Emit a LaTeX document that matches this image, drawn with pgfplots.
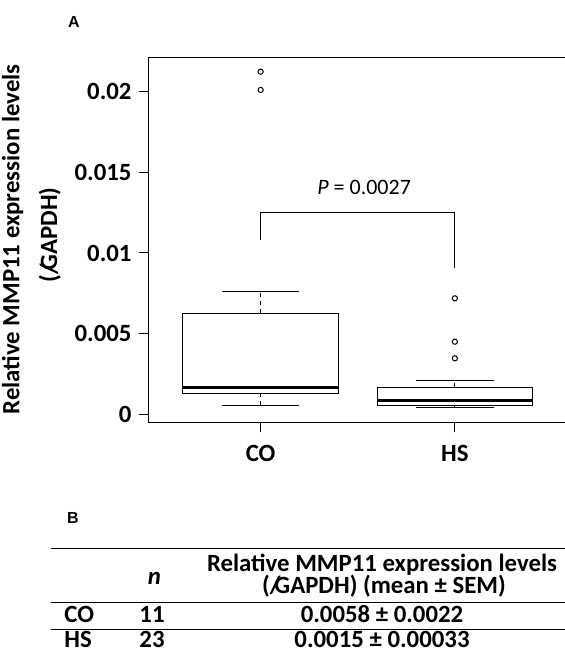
\documentclass[border=0pt]{standalone}
\usepackage{fontspec}
\setmainfont{Carlito}
\newfontfamily\labfont{Liberation Sans}
\usepackage{pgfplots}
\pgfplotsset{compat=1.18}
\usepgfplotslibrary{statistics}
\newcommand{\bigb}{\fontsize{12.4}{14}\selectfont\bfseries}
\begin{document}
\begin{tikzpicture}
\path[use as bounding box] (0,0) rectangle (282.5pt,326pt);
% values in units of 0.001 (relative expression x 1000)
\begin{axis}[
  at={(74pt,114.5pt)}, anchor=south west,
  scale only axis, width=209.75pt, height=182.75pt,
  xmin=0.42, xmax=2.58, ymin=-0.54, ymax=22.12,
  xtick={1,2}, xticklabels={CO,HS},
  ytick={0,5,10,15,20},
  yticklabels={0,0.005,0.01,0.015,0.02},
  tick align=outside, tick pos=left,
  major tick length=4.7pt,
  axis line style={line width=0.5pt},
  every tick/.style={black, line width=0.5pt},
  ticklabel style={font=\bigb},
  xticklabel style={yshift=-3pt},
  clip=false,
  boxplot/draw direction=y,
  boxplot/box extend=0.8, boxplot/whisker extend=0.4,
  boxplot/every median/.style={line width=1.4pt},
  boxplot/draw/lower whisker/.code={%
    \draw[dash pattern=on 2pt off 2pt] (boxplot box cs:\pgfplotsboxplotvalue{lower quartile},0.5) -- (boxplot box cs:\pgfplotsboxplotvalue{lower whisker},0.5);
    \draw (boxplot whisker cs:\pgfplotsboxplotvalue{lower whisker},0) -- (boxplot whisker cs:\pgfplotsboxplotvalue{lower whisker},1);
  },
  boxplot/draw/upper whisker/.code={%
    \draw[dash pattern=on 2pt off 2pt] (boxplot box cs:\pgfplotsboxplotvalue{upper quartile},0.5) -- (boxplot box cs:\pgfplotsboxplotvalue{upper whisker},0.5);
    \draw (boxplot whisker cs:\pgfplotsboxplotvalue{upper whisker},0) -- (boxplot whisker cs:\pgfplotsboxplotvalue{upper whisker},1);
  },
]
\addplot[black, line width=0.5pt, mark=o, mark size=1.3pt,
  boxplot prepared={draw position=1, lower whisker=0.57, lower quartile=1.30,
    median=1.64, upper quartile=6.26, upper whisker=7.64}]
  coordinates {(1,21.24) (1,20.11)};
\addplot[black, line width=0.5pt, mark=o, mark size=1.3pt,
  boxplot prepared={draw position=2, lower whisker=0.39, lower quartile=0.56,
    median=0.84, upper quartile=1.67, upper whisker=2.08}]
  coordinates {(2,7.19) (2,4.50) (2,3.47)};
\addplot[black, line width=0.5pt, mark=none] coordinates {(1,10.81) (1,12.52) (2,12.52) (2,9.05)};
\node[anchor=base, font=\fontsize{11}{13}\selectfont] at (axis cs:1.533,13.6) {\textit{P} = 0.0027};
\end{axis}
% panel letters
\node[font=\labfont\fontsize{8}{9}\selectfont\bfseries] at (37pt,315pt) {A};
\node[font=\labfont\fontsize{8}{9}\selectfont\bfseries] at (36.5pt,67pt) {B};
% y label
\node[rotate=90, anchor=base, inner sep=0pt, font=\bigb] at (9.65pt,206.25pt) {Relative MMP11 expression levels};
\node[rotate=90, anchor=base, inner sep=0pt, font=\bigb] at (28.5pt,208.5pt) {(/\kern-0.25em GAPDH)};
% table
\draw[line width=0.5pt] (25.5pt,51.5pt) -- (284pt,51.5pt);
\draw[line width=0.5pt] (25.5pt,24.5pt) -- (284pt,24.5pt);
\draw[line width=0.5pt] (25.5pt,11pt) -- (284pt,11pt);
\node[anchor=base, font=\bigb, inner sep=0pt] at (191pt,40pt) {Relative MMP11 expression levels};
\node[anchor=base, font=\bigb, inner sep=0pt] at (192pt,29pt) {(/\kern-0.25em GAPDH) (mean ± SEM)};
\node[anchor=base, font=\bigb\itshape, inner sep=0pt] at (77.25pt,33.5pt) {n};
\node[anchor=base west, font=\bigb, inner sep=0pt] at (32pt,14.5pt) {CO};
\node[anchor=base, font=\bigb, inner sep=0pt] at (76pt,14.5pt) {11};
\node[anchor=base, font=\bigb, inner sep=0pt] at (191pt,14.5pt) {0.0058 ± 0.0022};
\node[anchor=base west, font=\bigb, inner sep=0pt] at (32pt,2pt) {HS};
\node[anchor=base, font=\bigb, inner sep=0pt] at (76pt,2pt) {23};
\node[anchor=base, font=\bigb, inner sep=0pt] at (191pt,2pt) {0.0015 ± 0.00033};
\end{tikzpicture}
\end{document}
